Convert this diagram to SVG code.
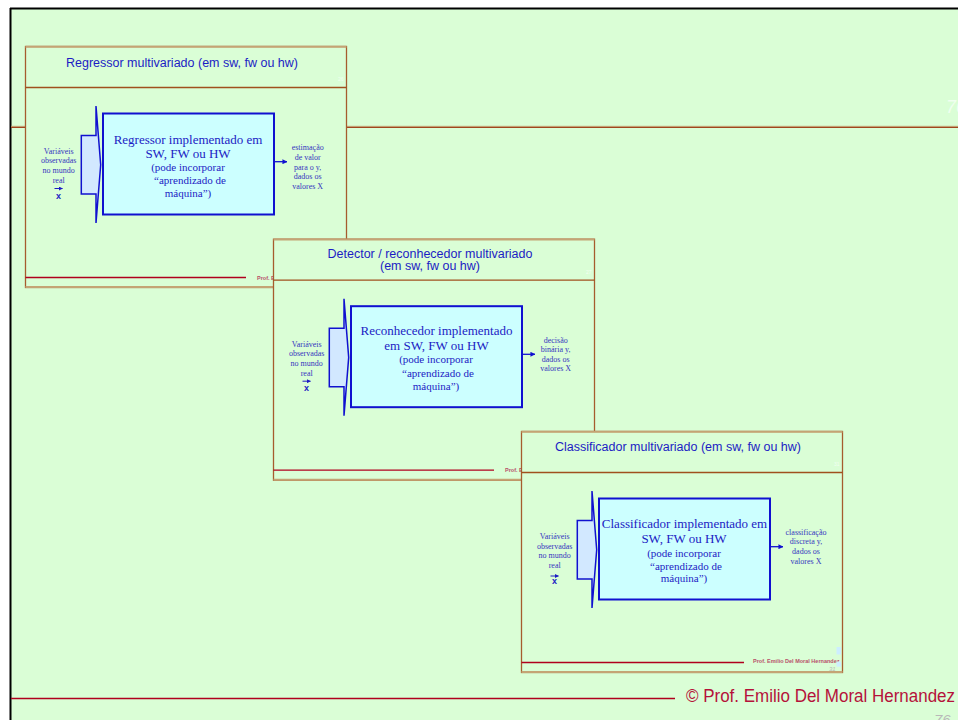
<svg xmlns="http://www.w3.org/2000/svg" width="958" height="720" viewBox="0 0 958 720">
<defs>
<style>
.bg{fill:#dafed6}
.pframe{fill:#dafed6;stroke:#a65c2e;stroke-width:1.3}
.tan{stroke:#c4a475;stroke-width:2;fill:none}
.brown{stroke:#a0501e;stroke-width:1.3;fill:none}
.red{stroke:#b0001e;stroke-width:1.3;fill:none}
.title{font-family:"Liberation Sans",Arial,sans-serif;font-size:12.5px;fill:#1c1cc4;text-anchor:middle}
.main{font-family:"Liberation Serif","Times New Roman",serif;font-size:13px;fill:#1c1cc4;text-anchor:middle}
.sub{font-family:"Liberation Serif","Times New Roman",serif;font-size:11px;fill:#1c1cc4;text-anchor:middle}
.small{font-family:"Liberation Serif","Times New Roman",serif;font-size:8px;fill:#3535c0;text-anchor:middle}
.vec{font-family:"Liberation Sans",Arial,sans-serif;font-size:9px;font-weight:bold;fill:#1c1cc4;text-anchor:middle}
.prof{font-family:"Liberation Sans",Arial,sans-serif;font-size:5.5px;font-weight:bold;fill:#b8506a}
.num{font-family:"Liberation Sans",Arial,sans-serif;font-size:5px;fill:#f2fff2}
.box{fill:#ccffff;stroke:#1010d0;stroke-width:2}
.chev{fill:#d2e8ff;stroke:#1010d0;stroke-width:1.5;stroke-linejoin:miter}
.conn{stroke:#1010d0;stroke-width:1.3;fill:none}
</style>
<marker id="ah" viewBox="0 0 6 6" refX="5.5" refY="3" markerWidth="5" markerHeight="5" markerUnits="userSpaceOnUse" orient="auto">
<path d="M0,0 L6,3 L0,6 Z" fill="#1010d0"/>
</marker>
<marker id="vah" viewBox="0 0 6 6" refX="5.5" refY="3" markerWidth="4" markerHeight="4" markerUnits="userSpaceOnUse" orient="auto">
<path d="M0,0 L6,3 L0,6 Z" fill="#1c1cc4"/>
</marker>
</defs>

<rect x="0" y="0" width="958" height="720" fill="#ffffff"/>
<rect x="10" y="8" width="948" height="712" class="bg"/>
<line x1="10" y1="8.5" x2="958" y2="8.5" stroke="#000" stroke-width="2"/>
<line x1="10.5" y1="8" x2="10.5" y2="720" stroke="#000" stroke-width="2"/>

<line x1="11" y1="126.3" x2="958" y2="126.3" stroke="#c8b080" stroke-width="1"/>
<line x1="11" y1="127.4" x2="958" y2="127.4" stroke="#a0461e" stroke-width="1.2"/>
<text x="946" y="113" font-family="'Liberation Sans',Arial,sans-serif" font-size="18" font-style="italic" fill="#f0fff0">76</text>

<g id="panel-regressor">
<rect x="25.5" y="46.5" width="321" height="241" class="pframe"/>
<line x1="25.5" y1="46.7" x2="346.5" y2="46.7" class="tan"/>
<line x1="25.5" y1="287" x2="346.5" y2="287" class="tan"/>
<line x1="25.5" y1="87.5" x2="346.5" y2="87.5" class="brown"/>
<text x="182" y="67" class="title">Regressor multivariado (em sw, fw ou hw)</text>
<text x="338" y="81" class="num">26</text>
<line x1="25.5" y1="277.5" x2="246" y2="277.5" class="red"/>
<text x="257" y="279.5" class="prof">Prof. E</text>
<g id="regressor-node">
<path d="M81.3,135.5 H96 V106 L100.7,164.7 L96,223 V194 H81.3 Z" class="chev"/>
<rect x="103" y="113.5" width="171" height="101" class="box"/>
<text x="188" y="143.5" class="main">Regressor implementado em</text>
<text x="188" y="158" class="main">SW, FW ou HW</text>
<text x="188" y="171" class="sub">(pode incorporar</text>
<text x="190" y="184" class="sub">“aprendizado de</text>
<text x="188" y="197" class="sub">máquina”)</text>
</g>
<g id="regressor-input">
<text x="58.7" y="154" class="small">Variáveis</text>
<text x="58.7" y="163" class="small">observadas</text>
<text x="58.7" y="173" class="small">no mundo</text>
<text x="58.7" y="183" class="small">real</text>
<line x1="54.5" y1="188.5" x2="62.5" y2="188.5" stroke="#1c1cc4" stroke-width="1" marker-end="url(#vah)"/>
<text x="58.5" y="198.5" class="vec">x</text>
</g>
<g id="regressor-output">
<text x="307.7" y="150" class="small">estimação</text>
<text x="307.7" y="160" class="small">de valor</text>
<text x="307.7" y="169.5" class="small">para o y,</text>
<text x="307.7" y="179" class="small">dados os</text>
<text x="307.7" y="188.5" class="small">valores X</text>
</g>
</g>

<g id="panel-detector" transform="translate(248,192.7)">
<rect x="25.5" y="46.5" width="321" height="241" class="pframe"/>
<line x1="25.5" y1="46.7" x2="346.5" y2="46.7" class="tan"/>
<line x1="25.5" y1="287" x2="346.5" y2="287" class="tan"/>
<line x1="25.5" y1="87.5" x2="346.5" y2="87.5" class="brown"/>
<text x="182" y="65" class="title">Detector / reconhecedor multivariado</text>
<text x="182" y="77.5" class="title">(em sw, fw ou hw)</text>
<text x="338" y="81" class="num">27</text>
<line x1="25.5" y1="277.5" x2="246" y2="277.5" class="red"/>
<text x="257" y="279.5" class="prof">Prof. E</text>
<g id="detector-node">
<path d="M81.3,135.5 H96 V106 L100.7,164.7 L96,223 V194 H81.3 Z" class="chev"/>
<rect x="103" y="113.5" width="171" height="101" class="box"/>
<text x="188.5" y="142" class="main">Reconhecedor implementado</text>
<text x="188.5" y="157" class="main">em SW, FW ou HW</text>
<text x="188" y="170.5" class="sub">(pode incorporar</text>
<text x="190" y="184" class="sub">“aprendizado de</text>
<text x="188" y="197" class="sub">máquina”)</text>
</g>
<g id="detector-input">
<text x="58.7" y="154" class="small">Variáveis</text>
<text x="58.7" y="163.5" class="small">observadas</text>
<text x="58.7" y="173" class="small">no mundo</text>
<text x="58.7" y="183" class="small">real</text>
<line x1="54.5" y1="188.5" x2="62.5" y2="188.5" stroke="#1c1cc4" stroke-width="1" marker-end="url(#vah)"/>
<text x="58.5" y="198.5" class="vec">x</text>
</g>
<g id="detector-output">
<text x="307.7" y="150" class="small">decisão</text>
<text x="307.7" y="159.5" class="small">binária y,</text>
<text x="307.7" y="169" class="small">dados os</text>
<text x="307.7" y="178.5" class="small">valores X</text>
</g>
</g>

<g id="panel-classificador" transform="translate(496,385)">
<rect x="25.5" y="46.5" width="321" height="241" class="pframe"/>
<line x1="25.5" y1="46.7" x2="346.5" y2="46.7" class="tan"/>
<line x1="25.5" y1="287" x2="346.5" y2="287" class="tan"/>
<line x1="25.5" y1="87.5" x2="346.5" y2="87.5" class="brown"/>
<text x="182" y="66" class="title">Classificador multivariado (em sw, fw ou hw)</text>
<text x="338" y="81" class="num">31</text>
<line x1="25.5" y1="277.5" x2="248" y2="277.5" class="red"/>
<text x="257" y="277.5" class="prof">Prof. Emilio Del Moral Hernandez</text>
<rect x="340.5" y="262" width="4.5" height="7.5" fill="#cdeeff"/>
<rect x="340.5" y="276.7" width="4.5" height="5" fill="#cdeeff"/>
<text x="333" y="286" font-family="'Liberation Sans',Arial,sans-serif" font-size="6" font-style="italic" fill="#b8b8b8">31</text>
<g id="classificador-node">
<path d="M81.3,135.5 H96 V106 L100.7,164.7 L96,223 V194 H81.3 Z" class="chev"/>
<rect x="103" y="113.5" width="171" height="101" class="box"/>
<text x="188.5" y="143" class="main">Classificador implementado em</text>
<text x="188" y="157.5" class="main">SW, FW ou HW</text>
<text x="188" y="171.5" class="sub">(pode incorporar</text>
<text x="190" y="184.5" class="sub">“aprendizado de</text>
<text x="188" y="197" class="sub">máquina”)</text>
</g>
<g id="classificador-input">
<text x="58.7" y="153.5" class="small">Variáveis</text>
<text x="58.7" y="164" class="small">observadas</text>
<text x="58.7" y="173" class="small">no mundo</text>
<text x="58.7" y="182.5" class="small">real</text>
<line x1="54.5" y1="191" x2="62.5" y2="191" stroke="#1c1cc4" stroke-width="1" marker-end="url(#vah)"/>
<text x="58.5" y="198.5" class="vec">x</text>
</g>
<g id="classificador-output">
<text x="310" y="150" class="small">classificação</text>
<text x="310" y="159" class="small">discreta y,</text>
<text x="310" y="169" class="small">dados os</text>
<text x="310" y="178.5" class="small">valores X</text>
</g>
</g>

<g id="connectors">
<line x1="274" y1="161.7" x2="287" y2="161.7" class="conn" marker-end="url(#ah)"/>
<line x1="522" y1="354.3" x2="535" y2="354.3" class="conn" marker-end="url(#ah)"/>
<line x1="770" y1="546.7" x2="783" y2="546.7" class="conn" marker-end="url(#ah)"/>
</g>

<g id="footer">
<line x1="11" y1="698.5" x2="675" y2="698.5" stroke="#b0001e" stroke-width="1.5"/>
<text x="686" y="702" font-family="'Liberation Sans',Arial,sans-serif" font-size="17.5" fill="#b5123a" textLength="269" lengthAdjust="spacingAndGlyphs">© Prof. Emilio Del Moral Hernandez</text>
<text x="934" y="725" font-family="'Liberation Sans',Arial,sans-serif" font-size="15" font-style="italic" fill="#b8b8b8">76</text>
</g>
</svg>
